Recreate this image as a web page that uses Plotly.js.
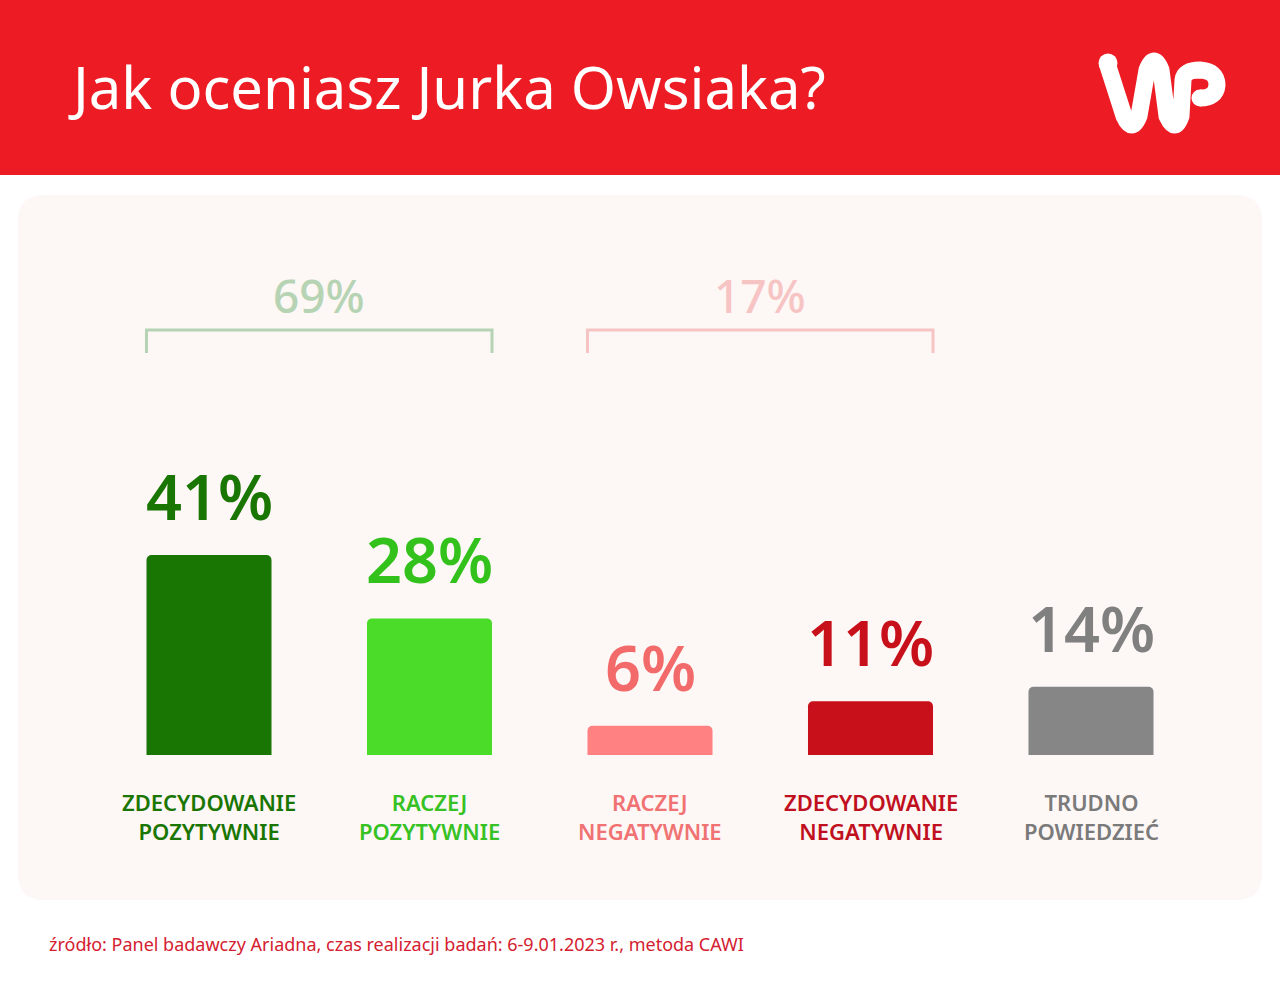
<!DOCTYPE html>
<html>
<head>
<meta charset="utf-8">
<script src="https://cdn.plot.ly/plotly-3.0.1.min.js"></script>
<style>html,body{margin:0;padding:0;background:#fff;}#chart{width:1280px;height:985px;}</style>
</head>
<body>
<div id="chart"></div>
<script>
// ---- data ----
const categories = ["ZDECYDOWANIE<br>POZYTYWNIE", "RACZEJ<br>POZYTYWNIE", "RACZEJ<br>NEGATYWNIE", "ZDECYDOWANIE<br>NEGATYWNIE", "TRUDNO<br>POWIEDZIEĆ"];
const values = [41, 28, 6, 11, 14];
const valueLabels = ["41%", "28%", "6%", "11%", "14%"];
const groupLabels = ["69%", "17%"];
const groupRanges = [[0, 1], [2, 3]];
const titleText = "Jak oceniasz Jurka Owsiaka?";
const sourceText = "źródło: Panel badawczy Ariadna, czas realizacji badań: 6-9.01.2023 r., metoda CAWI";

// ---- styles ----
const barColors = ["#1a7602", "#4bdc29", "#ff8181", "#c8101a", "#868686"];
const valueColors = ["#1a7602", "#33c21c", "#f26a6a", "#c8101a", "#808080"];
const catColors = ["#1a7602", "#36c224", "#f07272", "#c01020", "#7a7a7a"];
const groupColors = ["#b6d4b4", "#f7c4c4"];
const W = 1280, H = 985;
const px = x => x / W;
const py = y => 1 - y / H;
const FONT = "Noto Sans, sans-serif";
const barWidth = 0.567;

const shapes = [];
// header band
shapes.push({type: "rect", xref: "paper", yref: "paper", x0: 0, x1: 1, y0: py(175), y1: 1,
  fillcolor: "#ed1c24", line: {width: 0}, layer: "below"});
// panel (rounded rect)
(function () {
  const x0 = 18, x1 = 1262, y0 = 195, y1 = 900, r = 26;
  const P = (x, y) => px(x) + "," + py(y);
  const d = "M" + P(x0 + r, y0) + " L" + P(x1 - r, y0) + " Q" + P(x1, y0) + " " + P(x1, y0 + r) +
    " L" + P(x1, y1 - r) + " Q" + P(x1, y1) + " " + P(x1 - r, y1) +
    " L" + P(x0 + r, y1) + " Q" + P(x0, y1) + " " + P(x0, y1 - r) +
    " L" + P(x0, y0 + r) + " Q" + P(x0, y0) + " " + P(x0 + r, y0) + " Z";
  shapes.push({type: "path", xref: "paper", yref: "paper", path: d, fillcolor: "#fdf7f6",
    line: {width: 0}, layer: "below"});
})();
// WP logo (white strokes)
(function () {
  const P = (x, y) => px(x) + "," + py(y);
  const w = "M" + P(1107, 63) + " L" + P(1124, 116) + " Q" + P(1132, 134) + " " + P(1139, 116) +
    " L" + P(1147, 70) + " Q" + P(1154, 52) + " " + P(1161, 70) +
    " L" + P(1167, 116) + " Q" + P(1175, 134) + " " + P(1181, 116) +
    " L" + P(1183, 80) + " Q" + P(1184, 70) + " " + P(1200, 70) +
    " Q" + P(1217, 71) + " " + P(1217, 85) + " Q" + P(1216, 98) + " " + P(1200, 98);
  shapes.push({type: "path", xref: "paper", yref: "paper", path: w,
    line: {color: "#ffffff", width: 17}, layer: "above"});
  [[1108, 63, 9.5], [1200, 98, 8.5]].forEach(c => {
    shapes.push({type: "circle", xref: "paper", yref: "paper",
      x0: px(c[0] - c[2]), x1: px(c[0] + c[2]), y0: py(c[1] + c[2]), y1: py(c[1] - c[2]),
      fillcolor: "#ffffff", line: {width: 0}});
  });
})();
// brackets
groupRanges.forEach((g, i) => {
  const xl = g[0] - barWidth / 2, xr = g[1] + barWidth / 2;
  const ytop = py(330), ybot = py(353);
  shapes.push({type: "path", xref: "x", yref: "paper",
    path: "M" + xl + "," + ybot + " L" + xl + "," + ytop + " L" + xr + "," + ytop + " L" + xr + "," + ybot,
    line: {color: groupColors[i], width: 3}});
});

const annotations = [];
values.forEach((v, i) => {
  annotations.push({x: i, y: v, xref: "x", yref: "y", text: valueLabels[i], showarrow: false,
    yanchor: "bottom", yshift: 15, font: {family: FONT, size: 63, color: valueColors[i], weight: 600}});
  annotations.push({x: i, y: 0, xref: "x", yref: "y", text: categories[i], showarrow: false,
    yanchor: "top", yshift: -30, font: {family: FONT, size: 22, color: catColors[i], weight: 600}});
});
groupRanges.forEach((g, i) => {
  annotations.push({x: (g[0] + g[1]) / 2, y: py(295), xref: "x", yref: "paper", text: groupLabels[i],
    showarrow: false, yanchor: "middle", font: {family: FONT, size: 46, color: groupColors[i], weight: 500}});
});
annotations.push({x: px(47), y: py(944), xref: "paper", yref: "paper", text: sourceText, showarrow: false,
  xanchor: "left", yanchor: "middle", font: {family: FONT, size: 18, color: "#d42030"}});

const trace = {type: "bar", x: categories.map((c, i) => i), y: values,
  marker: {color: barColors, cornerradius: 5}, width: barWidth, hoverinfo: "skip"};

const layout = {
  width: W, height: H, margin: {l: 0, r: 0, t: 0, b: 0},
  paper_bgcolor: "#ffffff", plot_bgcolor: "rgba(0,0,0,0)",
  showlegend: false,
  title: {text: titleText, x: px(73), xanchor: "left", y: py(89), yanchor: "middle", xref: "paper", yref: "paper",
    font: {family: FONT, size: 58, color: "#ffffff"}},
  xaxis: {domain: [px(98.75), px(1201.25)], range: [-0.5, 4.5], visible: false, fixedrange: true},
  yaxis: {domain: [py(755), py(255)], range: [0, 102.5], visible: false, fixedrange: true},
  shapes: shapes, annotations: annotations
};
Plotly.newPlot("chart", [trace], layout, {displayModeBar: false, staticPlot: true});
</script>
</body>
</html>
